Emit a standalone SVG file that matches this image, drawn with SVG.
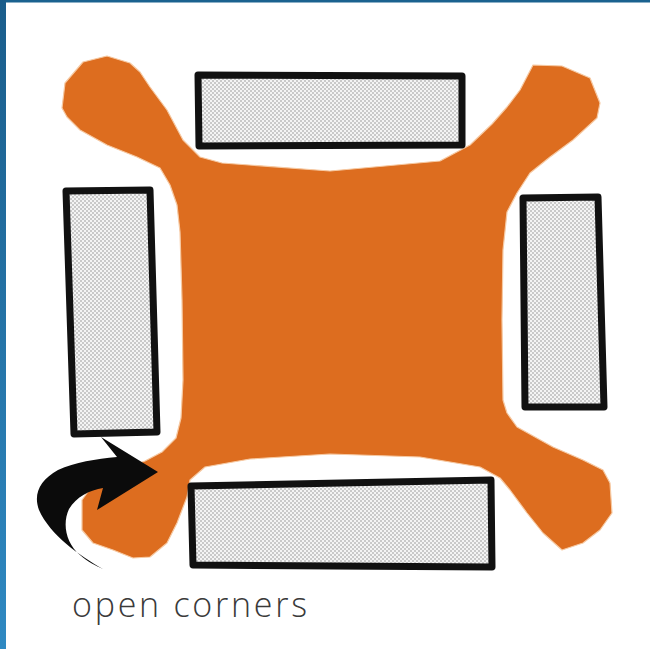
<svg xmlns="http://www.w3.org/2000/svg" width="650" height="649" viewBox="0 0 650 649">
  <defs>
    <linearGradient id="edge" x1="0" y1="0" x2="0" y2="1">
      <stop offset="0" stop-color="#1a5d8b"/>
      <stop offset="1" stop-color="#2f89c2"/>
    </linearGradient>
    <pattern id="dots" width="4" height="4" patternUnits="userSpaceOnUse">
      <rect width="4" height="4" fill="#f4f4f4"/>
      <circle cx="1" cy="1" r="0.8" fill="#929292"/>
      <circle cx="3" cy="3" r="0.8" fill="#929292"/>
    </pattern>
  </defs>
  <style>
    .slot { fill: url(#dots); stroke: #111; stroke-width: 7; stroke-linejoin: round; }
    .blob { fill: #dd6d1f; stroke: #f6c9a2; stroke-width: 1.2; stroke-linejoin: round; }
    .arrow { fill: #0b0b0b; }
    .label { font-family: "Open Sans", "Liberation Sans", sans-serif; font-weight: 300; font-size: 34px; fill: #3a3a3a; }
  </style>

  <rect x="0" y="0" width="650" height="649" fill="#ffffff"/>
  <rect x="0" y="0" width="650" height="2.5" fill="#1a628f"/>
  <rect x="0" y="0" width="6" height="649" fill="url(#edge)"/>

  <g id="table">
    <path class="blob" d="M107,56 L130,63 L140,72 L150,87 L167,110 L183,140 L200,157 L222,163 L330,171 L440,161 L470,145 L492,124 L507,107 L520,90 L533,65 L562,66 L590,78 L600,103 L597,118 L573,140 L550,157 L530,173 L517,193 L507,212 L503,250 L502,320 L503,400 L507,413 L517,427 L553,447 L583,460 L603,470 L610,483 L612,513 L600,530 L583,543 L562,550 L543,533 L527,513 L510,490 L500,478 L480,467 L420,457 L330,454 L250,459 L205,467 L190,480 L187,497 L177,523 L167,543 L150,557 L133,558 L113,550 L93,543 L82,530 L82,500 L95,482 L120,470 L145,461 L162,452 L176,438 L181,418 L183,380 L182,300 L180,232 L177,205 L170,185 L160,168 L137,157 L107,145 L80,130 L67,117 L62,108 L65,83 L83,62 Z"/>
  </g>

  <g id="chair-top">
    <polygon class="slot" points="198,75 462,76 462,145 199,146"/>
  </g>
  <g id="chair-left">
    <polygon class="slot" points="66,191 150,190 157,432 74,434"/>
  </g>
  <g id="chair-right">
    <polygon class="slot" points="523,198 598,197 604,407 525,407"/>
  </g>
  <g id="chair-bottom">
    <polygon class="slot" points="191,486 491,480 492,567 193,565"/>
  </g>

  <g id="connectors">
    <path class="arrow" d="M103,569 C80,556 50,535 39,510 C33,494 40,480 58,470 C75,462 96,459 117,457 L101,437 L158,472 L97,510 L103,488 C90,490 76,497 69,509 C62,524 66,543 80,555 C88,562 96,566 103,569 Z"/>
  </g>

  <g id="caption">
    <text class="label" x="72" y="617" textLength="235" lengthAdjust="spacing">open corners</text>
  </g>
</svg>
